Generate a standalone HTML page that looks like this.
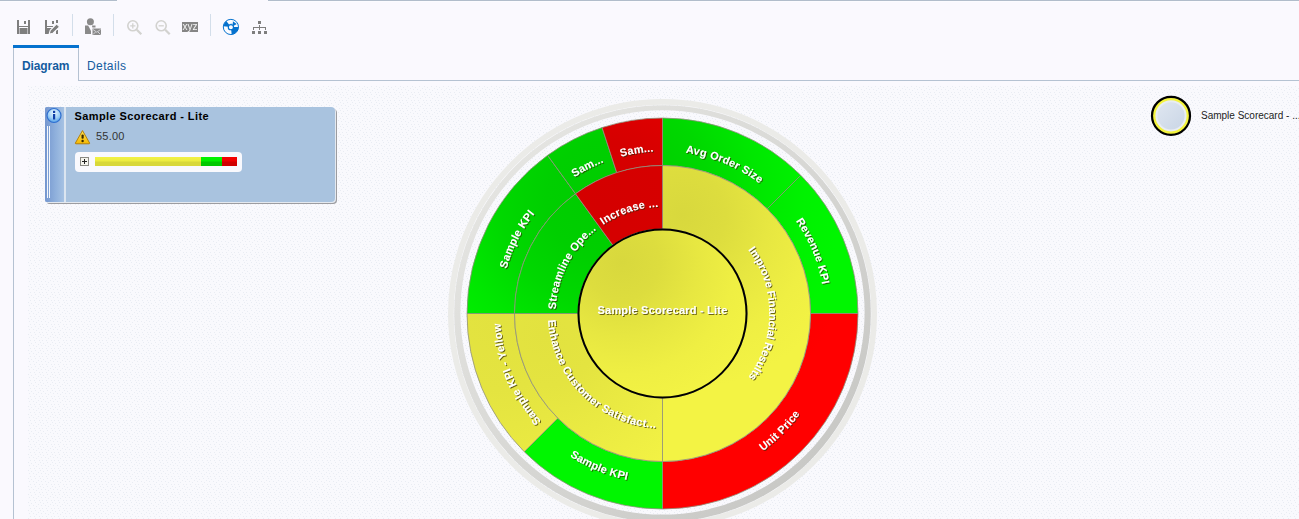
<!DOCTYPE html>
<html>
<head>
<meta charset="utf-8">
<title>Sample Scorecard - Lite</title>
<style>
html,body{margin:0;padding:0;}
body{width:1299px;height:519px;overflow:hidden;background:#faf9fe;font-family:"Liberation Sans",sans-serif;position:relative;}
.abs{position:absolute;}
#topl1,#topl2{top:0;height:1px;background:#b1bdcb;border-bottom:1px solid #fcfcff;}
#topl1{left:0;width:117px;}
#topl2{left:268px;width:1031px;}
.sep{top:14px;width:1px;height:22px;background:#d3deea;}
#tabbar{left:13px;top:45px;width:66px;height:3px;background:#0572ce;}
#tabL{left:13px;top:48px;width:1px;height:471px;background:#b5c2d2;}
#tabR{left:78px;top:48px;width:1px;height:33px;background:#b5c2d2;}
#tabB{left:78px;top:80px;width:1221px;height:1px;background:#b5c2d2;}
#t1{left:22px;top:59px;font-size:12px;font-weight:bold;color:#145c9e;line-height:14px;letter-spacing:-0.1px;}
#t2{left:87px;top:59px;font-size:12px;color:#145c9e;line-height:14px;letter-spacing:0.4px;}
#area{left:28px;top:86px;width:1271px;height:433px;}
#card{left:45px;top:107px;width:290px;height:95px;background:#a9c3df;border-radius:2px 4px 4px 2px;box-shadow:1px 1px 0 #e4e9f0,2px 2px 0 #9c9ca0;}
#strip{left:0;top:0;width:19px;height:95px;background:linear-gradient(90deg,#7496cf 0%,#8fb0dc 55%,#a6c2e3 100%);border-right:2px solid #dbe5f0;border-radius:2px 0 0 2px;}
.vl{top:19px;width:1px;height:72px;background:#f4f7fb;}
#ctitle{left:29.5px;top:2px;font-size:11px;font-weight:bold;color:#000;line-height:14px;white-space:nowrap;letter-spacing:0.4px;}
#cval{left:51px;top:22px;font-size:11px;color:#333;line-height:14px;letter-spacing:0.2px;}
#cbox{left:30px;top:45px;width:167px;height:20px;background:#f9f9fd;border-radius:4px;}
#plus{left:5px;top:5px;width:7px;height:7px;border:1px solid #8a8a84;background:#f4f4ee;}
#plus:before{content:"";position:absolute;left:1px;top:3px;width:5px;height:1px;background:#222;}
#plus:after{content:"";position:absolute;left:3px;top:1px;width:1px;height:5px;background:#222;}
.bar{top:5px;height:9px;}
#by{left:20px;width:106px;background:linear-gradient(#f2f244 0%,#ecec40 45%,#d8d83a 55%,#d8d83a 100%);}
#bg{left:126px;width:21px;background:linear-gradient(#00f400 0%,#00ee00 45%,#00c800 55%,#00c800 100%);}
#br{left:147px;width:15px;background:linear-gradient(#f60000 0%,#f00000 45%,#d00000 55%,#d00000 100%);}
#legtxt{left:1201px;top:110px;font-size:10px;color:#1c1c1c;line-height:12px;white-space:nowrap;}
svg{position:absolute;left:0;top:0;}
</style>
</head>
<body>
<div class="abs" id="topl1"></div><div class="abs" id="topl2"></div>
<div class="abs sep" style="left:72px"></div>
<div class="abs sep" style="left:113px"></div>
<div class="abs sep" style="left:210px"></div>
<svg width="300" height="45" viewBox="0 0 300 45">
<!-- save -->
<g fill="#7e7e7e">
<rect x="17" y="20" width="2" height="14"/><rect x="28" y="20" width="2" height="14"/>
<rect x="24" y="21" width="2" height="3"/>
<rect x="19" y="26" width="9" height="1"/>
<rect x="19.5" y="28" width="8" height="6"/>
</g>
<!-- save as -->
<g fill="#7e7e7e">
<rect x="45" y="20" width="2" height="14"/><rect x="56" y="20" width="2" height="3"/>
<rect x="52" y="21" width="2" height="3"/>
<rect x="47" y="26" width="6" height="1"/>
<rect x="47" y="28" width="5" height="6"/>
<rect x="56" y="30" width="2" height="4"/>
<path d="M49.2,34 L50.2,30.4 L56.6,23.8 L59.6,26.8 L53,33.2 Z" stroke="#f9f9fd" stroke-width="1.1"/>
</g>
<!-- person + envelope -->
<g fill="#8a8a8a">
<circle cx="90.4" cy="21.8" r="3.5"/>
<path d="M85,25.5 L88.2,25.5 L91,31 L91,34 L85,34 Z"/>
<path d="M92,25.5 L95.5,25.5 L95.5,27.5 L92.3,27.5 Z"/>
<rect x="92.5" y="28.5" width="8.5" height="6.5"/>
<path d="M93,29.5 L96.75,32.2 L100.5,29.5 M93,34.5 L95.5,32 M100.5,34.5 L98,32" stroke="#e4e4ea" stroke-width="0.8" fill="none"/>
</g>
<!-- zoom in -->
<g fill="none" stroke="#d2d2cf" stroke-width="1.6">
<circle cx="132.8" cy="25.8" r="5"/>
<path d="M136.8,29.8 L141.3,34.3" stroke-width="2.2"/>
<path d="M130.2,25.8 H135.4 M132.8,23.2 V28.4" stroke-width="1.3"/>
</g>
<!-- zoom out -->
<g fill="none" stroke="#d2d2cf" stroke-width="1.6">
<circle cx="161.2" cy="25.8" r="5"/>
<path d="M165.2,29.8 L169.7,34.3" stroke-width="2.2"/>
<path d="M158.6,25.8 H163.8" stroke-width="1.3"/>
</g>
<!-- xyz -->
<rect x="182" y="22" width="16" height="10" fill="#858585"/>
<text x="190" y="30" font-family="Liberation Sans, sans-serif" font-size="10" fill="#f6f6f6" text-anchor="middle" opacity="0.99">xyz</text>
<!-- sunburst icon -->
<g>
<circle cx="230.9" cy="26.95" r="7.6" fill="#fcfcff" stroke="#0572ce" stroke-width="1"/>
<path d="M230.9,26.95 L223.34,26.16 A7.6,7.6 0 0 1 226.33,20.88 Z" fill="#0572ce"/>
<path d="M230.9,26.95 L238.50,26.95 A7.6,7.6 0 0 1 231.69,34.51 Z" fill="#0572ce"/>
<path d="M232.9,21.3 L236.7,23.9 L232.9,26.2 Z" fill="#0572ce"/>
<path d="M230.5,23.9 L233.5,23.9" stroke="#0572ce" stroke-width="1" stroke-opacity="0.35"/>
<circle cx="230.9" cy="27.15" r="2.6" fill="#fcfcff" stroke="#0572ce" stroke-width="1.2"/>
</g>
<!-- hierarchy -->
<g fill="#7e7e7e">
<rect x="258" y="21" width="3" height="3"/>
<rect x="252" y="31" width="3" height="3"/><rect x="258" y="31" width="3" height="3"/><rect x="264" y="31" width="3" height="3"/>
<rect x="259" y="25" width="1" height="5"/>
<rect x="253" y="27" width="13" height="1"/>
<rect x="253" y="27" width="1" height="3"/><rect x="265" y="27" width="1" height="3"/>
</g>
</svg>

<div class="abs" id="tabbar"></div>
<div class="abs" id="tabL"></div>
<div class="abs" id="tabR"></div>
<div class="abs" id="tabB"></div>
<div class="abs" id="t1">Diagram</div>
<div class="abs" id="t2">Details</div>
<svg id="area" class="abs" width="1271" height="433" style="left:28px;top:86px" shape-rendering="crispEdges">
<defs><pattern id="dots" width="12" height="8" patternUnits="userSpaceOnUse">
<rect width="12" height="8" fill="#f9f9fd"/>
<g fill="#e9ecf3"><rect x="0" y="0" width="1" height="1"/><rect x="3" y="1" width="1" height="1"/><rect x="7" y="0" width="1" height="1"/><rect x="10" y="2" width="1" height="1"/><rect x="1" y="3" width="1" height="1"/><rect x="5" y="3" width="1" height="1"/><rect x="8" y="4" width="1" height="1"/><rect x="2" y="6" width="1" height="1"/><rect x="6" y="6" width="1" height="1"/><rect x="11" y="6" width="1" height="1"/></g>
</pattern></defs>
<rect width="1271" height="433" fill="url(#dots)"/>
</svg>
<div class="abs" id="card">
  <div class="abs" id="strip"></div>
  <div class="abs vl" style="left:2px"></div>
  <div class="abs vl" style="left:4px"></div>
  <div class="abs" id="ctitle">Sample Scorecard - Lite</div>
  <div class="abs" id="cval">55.00</div>
  <div class="abs" id="cbox">
    <div class="abs" id="plus"></div>
    <div class="abs bar" id="by"></div><div class="abs bar" id="bg"></div><div class="abs bar" id="br"></div>
  </div>
  <svg width="100" height="50" viewBox="0 0 100 50" style="left:0;top:0">
<defs>
<radialGradient id="ig" cx="0.5" cy="0.3" r="0.7"><stop offset="0" stop-color="#e8f6ff"/><stop offset="0.6" stop-color="#9fd0f6"/><stop offset="1" stop-color="#4f9be6"/></radialGradient>
<linearGradient id="wg" x1="0" y1="0" x2="0" y2="1"><stop offset="0" stop-color="#ffe45a"/><stop offset="1" stop-color="#f5b800"/></linearGradient>
</defs>
<circle cx="9" cy="8.5" r="7" fill="url(#ig)" stroke="#2f6fd0" stroke-width="1.2"/>
<rect x="8" y="7" width="2.2" height="5.5" fill="#1040a8"/><rect x="8" y="3.8" width="2.2" height="2.2" fill="#1040a8"/>
<path d="M37.5,23.6 L44.6,36 Q44.9,36.8 44,36.8 L31,36.8 Q30.1,36.8 30.4,36 Z" fill="url(#wg)" stroke="#b07800" stroke-width="0.9" stroke-linejoin="round"/>
<rect x="36.5" y="27.5" width="2.2" height="4.2" rx="1" fill="#3a2a00"/><circle cx="37.6" cy="34" r="1.2" fill="#3a2a00"/>
</svg>

</div>
<svg id="chart" width="1299" height="519" viewBox="0 0 1299 519">
<defs>
<path id="tp1" d="M518.58,238.58 A162.25,162.25 0 0 1 817.24,362.29"/>
<path id="tp2" d="M613.71,158.76 A162.25,162.25 0 0 1 737.42,457.42"/>
<path id="tp3" d="M553.07,443.92 A170.25,170.25 0 0 0 792.92,204.07"/>
<path id="tp4" d="M500.13,262.30 A170.25,170.25 0 0 0 813.51,392.11"/>
<path id="tp5" d="M711.29,468.24 A162.25,162.25 0 0 1 587.58,169.58"/>
<path id="tp6" d="M576.52,451.10 A162.25,162.25 0 0 1 723.28,163.06"/>
<path id="tp7" d="M512.06,374.28 A162.25,162.25 0 0 1 800.10,227.52"/>
<path id="tp8" d="M500.65,324.82 A162.25,162.25 0 0 1 819.93,274.25"/>
<path id="tp9" d="M671.80,207.16 A106.75,106.75 0 0 1 671.80,419.84"/>
<path id="tp10" d="M574.60,239.74 A114.75,114.75 0 0 0 736.26,401.40"/>
<path id="tp11" d="M605.93,404.03 A106.75,106.75 0 0 1 702.49,214.52"/>
<path id="tp12" d="M558.49,337.51 A106.75,106.75 0 0 1 760.76,271.79"/>
<radialGradient id="gY0" gradientUnits="userSpaceOnUse" cx="622" cy="262" r="150"><stop offset="0" stop-color="#d8d83d"/><stop offset="0.25" stop-color="#dddd3e"/><stop offset="0.5" stop-color="#e7e741"/><stop offset="0.75" stop-color="#efef43"/><stop offset="1" stop-color="#f3f344"/></radialGradient>
<radialGradient id="gY1" gradientUnits="userSpaceOnUse" cx="682" cy="215" r="175"><stop offset="0" stop-color="#d8d83d"/><stop offset="0.25" stop-color="#dddd3e"/><stop offset="0.5" stop-color="#e7e741"/><stop offset="0.75" stop-color="#efef43"/><stop offset="1" stop-color="#f3f344"/></radialGradient>
<radialGradient id="gY2" gradientUnits="userSpaceOnUse" cx="545" cy="335" r="170"><stop offset="0" stop-color="#e2e23f"/><stop offset="0.3" stop-color="#e4e440"/><stop offset="0.6" stop-color="#eaea42"/><stop offset="1" stop-color="#f2f244"/></radialGradient>
<radialGradient id="gY3" gradientUnits="userSpaceOnUse" cx="500" cy="320" r="140"><stop offset="0" stop-color="#e2e23f"/><stop offset="0.5" stop-color="#e4e440"/><stop offset="1" stop-color="#eaea42"/></radialGradient>
<radialGradient id="gG" gradientUnits="userSpaceOnUse" cx="605" cy="200" r="235"><stop offset="0" stop-color="#00cc00"/><stop offset="0.25" stop-color="#00cf00"/><stop offset="0.45" stop-color="#00d800"/><stop offset="0.65" stop-color="#00e700"/><stop offset="0.85" stop-color="#00f200"/><stop offset="1" stop-color="#00f600"/></radialGradient>
<radialGradient id="gR" gradientUnits="userSpaceOnUse" cx="600" cy="205" r="260"><stop offset="0" stop-color="#d40000"/><stop offset="0.25" stop-color="#d60000"/><stop offset="0.45" stop-color="#e00000"/><stop offset="0.65" stop-color="#f00000"/><stop offset="0.85" stop-color="#fb0000"/><stop offset="1" stop-color="#ff0000"/></radialGradient>
<radialGradient id="gY" gradientUnits="userSpaceOnUse" cx="592" cy="228" r="290"><stop offset="0" stop-color="#d7d73c"/><stop offset="0.3" stop-color="#dbdb3d"/><stop offset="0.55" stop-color="#e2e23f"/><stop offset="0.75" stop-color="#ecec42"/><stop offset="0.9" stop-color="#f1f143"/><stop offset="1" stop-color="#f3f344"/></radialGradient>
<linearGradient id="frameg" gradientUnits="userSpaceOnUse" x1="510" y1="165" x2="815" y2="465">
<stop offset="0" stop-color="#e4e4e1"/><stop offset="0.45" stop-color="#d9d9d6"/><stop offset="1" stop-color="#c8c8c5"/>
</linearGradient>
<filter id="ds" x="-5%" y="-5%" width="110%" height="110%">
<feDropShadow dx="1" dy="1" stdDeviation="0.6" flood-color="#302800" flood-opacity="0.7"/>
</filter>
</defs>
<circle cx="662.5" cy="313.5" r="211.65" fill="none" stroke="#ebebe8" stroke-width="5.7"/>
<path fill-rule="evenodd" fill="url(#frameg)" d="M454.2,313.5 a208.3,208.3 0 1 0 416.6,0 a208.3,208.3 0 1 0 -416.6,0 Z M460.4,312.4 a202.1,202.1 0 1 0 404.2,0 a202.1,202.1 0 1 0 -404.2,0 Z"/>
<g shape-rendering="auto">
<path d="M662.50,118.00 A195.5,195.5 0 0 1 800.74,175.26 L767.15,208.85 A148.0,148.0 0 0 0 662.50,165.50 Z" fill="url(#gG)" stroke="#90907c" stroke-width="0.8"/>
<path d="M800.74,175.26 A195.5,195.5 0 0 1 858.00,313.50 L810.50,313.50 A148.0,148.0 0 0 0 767.15,208.85 Z" fill="url(#gG)" stroke="#90907c" stroke-width="0.8"/>
<path d="M858.00,313.50 A195.5,195.5 0 0 1 662.50,509.00 L662.50,461.50 A148.0,148.0 0 0 0 810.50,313.50 Z" fill="url(#gR)" stroke="#90907c" stroke-width="0.8"/>
<path d="M662.50,509.00 A195.5,195.5 0 0 1 524.26,451.74 L557.85,418.15 A148.0,148.0 0 0 0 662.50,461.50 Z" fill="url(#gG)" stroke="#90907c" stroke-width="0.8"/>
<path d="M524.26,451.74 A195.5,195.5 0 0 1 467.00,313.50 L514.50,313.50 A148.0,148.0 0 0 0 557.85,418.15 Z" fill="url(#gY3)" stroke="#90907c" stroke-width="0.8"/>
<path d="M467.00,313.50 A195.5,195.5 0 0 1 547.59,155.34 L575.51,193.77 A148.0,148.0 0 0 0 514.50,313.50 Z" fill="url(#gG)" stroke="#90907c" stroke-width="0.8"/>
<path d="M547.59,155.34 A195.5,195.5 0 0 1 602.09,127.57 L616.77,172.74 A148.0,148.0 0 0 0 575.51,193.77 Z" fill="url(#gG)" stroke="#90907c" stroke-width="0.8"/>
<path d="M602.09,127.57 A195.5,195.5 0 0 1 662.50,118.00 L662.50,165.50 A148.0,148.0 0 0 0 616.77,172.74 Z" fill="url(#gR)" stroke="#90907c" stroke-width="0.8"/>
<path d="M662.50,165.50 A148.0,148.0 0 0 1 662.50,461.50 L662.50,398.00 A84.5,84.5 0 0 0 662.50,229.00 Z" fill="url(#gY1)" stroke="#90907c" stroke-width="0.8"/>
<path d="M662.50,461.50 A148.0,148.0 0 0 1 514.50,313.50 L578.00,313.50 A84.5,84.5 0 0 0 662.50,398.00 Z" fill="url(#gY2)" stroke="#90907c" stroke-width="0.8"/>
<path d="M514.50,313.50 A148.0,148.0 0 0 1 575.51,193.77 L612.83,245.14 A84.5,84.5 0 0 0 578.00,313.50 Z" fill="url(#gG)" stroke="#90907c" stroke-width="0.8"/>
<path d="M575.51,193.77 A148.0,148.0 0 0 1 662.50,165.50 L662.50,229.00 A84.5,84.5 0 0 0 612.83,245.14 Z" fill="url(#gR)" stroke="#90907c" stroke-width="0.8"/>
</g>
<circle cx="662.5" cy="313.5" r="84.5" fill="url(#gY0)"/>
<circle cx="662.5" cy="313.5" r="84.0" fill="none" stroke="#000" stroke-width="2"/>
<g font-family="Liberation Sans, sans-serif" font-weight="bold" font-size="11" fill="#fff" letter-spacing="0.2" filter="url(#ds)">
<text letter-spacing="0.2"><textPath href="#tp1" startOffset="50%" text-anchor="middle">Avg Order Size</textPath></text>
<text letter-spacing="0.2"><textPath href="#tp2" startOffset="50%" text-anchor="middle">Revenue KPI</textPath></text>
<text letter-spacing="0.2"><textPath href="#tp3" startOffset="50%" text-anchor="middle">Unit Price</textPath></text>
<text letter-spacing="0.2"><textPath href="#tp4" startOffset="50%" text-anchor="middle">Sample KPI</textPath></text>
<text letter-spacing="0.2"><textPath href="#tp5" startOffset="50%" text-anchor="middle">Sample KPI - Yellow</textPath></text>
<text letter-spacing="0.2"><textPath href="#tp6" startOffset="50%" text-anchor="middle">Sample KPI</textPath></text>
<text letter-spacing="0.2"><textPath href="#tp7" startOffset="50%" text-anchor="middle">Sam...</textPath></text>
<text letter-spacing="0.2"><textPath href="#tp8" startOffset="50%" text-anchor="middle">Sam...</textPath></text>
<text letter-spacing="0.0"><textPath href="#tp9" startOffset="50%" text-anchor="middle">Improve Financial Results</textPath></text>
<text letter-spacing="0.3"><textPath href="#tp10" startOffset="50%" text-anchor="middle">Enhance Customer Satisfact...</textPath></text>
<text letter-spacing="0.15"><textPath href="#tp11" startOffset="50%" text-anchor="middle">Streamline Ope...</textPath></text>
<text letter-spacing="0.2"><textPath href="#tp12" startOffset="50%" text-anchor="middle">Increase ...</textPath></text>
<text x="662.5" y="314.0" text-anchor="middle">Sample Scorecard - Lite</text>
</g>
</svg>
<svg width="60" height="60" viewBox="0 0 60 60" style="left:1141px;top:86px">
<defs><linearGradient id="lg" x1="0" y1="0" x2="1" y2="1"><stop offset="0" stop-color="#e0e7f1"/><stop offset="1" stop-color="#c9d5e5"/></linearGradient></defs>
<circle cx="30" cy="29.8" r="19" fill="#f4f43e" stroke="#000" stroke-width="2.2"/>
<circle cx="30" cy="29.8" r="14.6" fill="url(#lg)" stroke="#e9edf2" stroke-width="2"/>
</svg>

<div class="abs" id="legtxt">Sample Scorecard - ...</div>
</body>
</html>
